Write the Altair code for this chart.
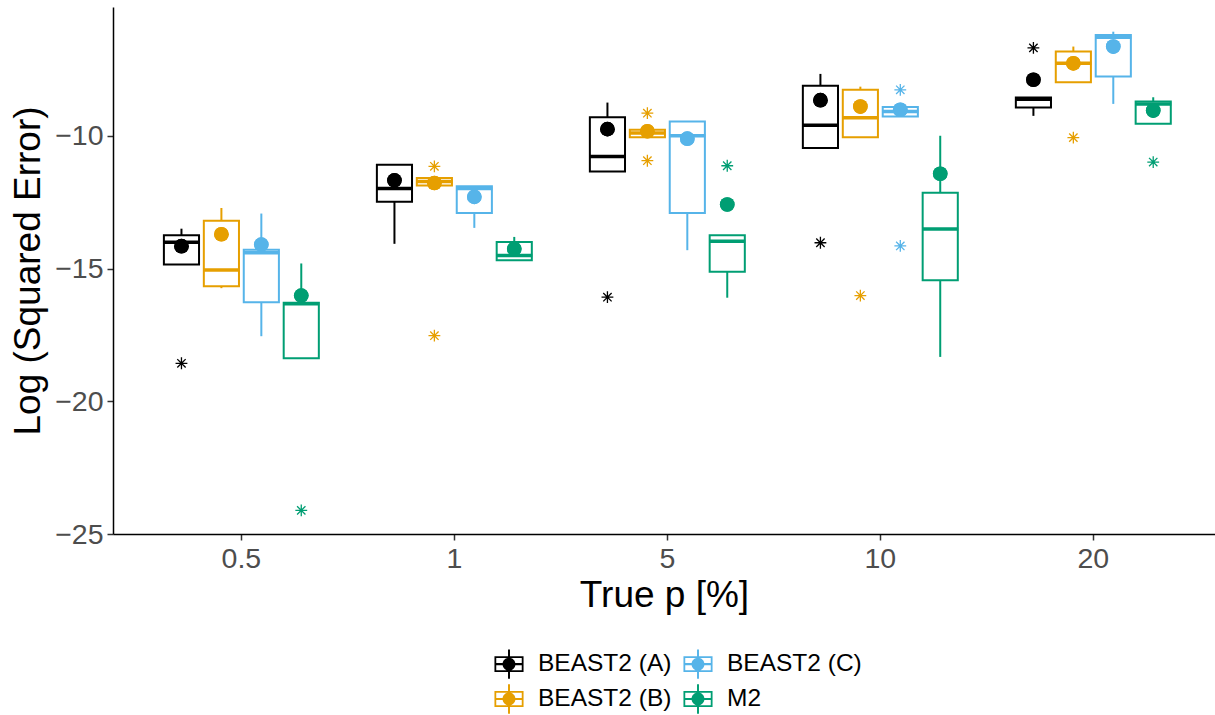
import altair as alt
import pandas as pd

# ---------------- data ----------------
cats = ["0.5", "1", "5", "10", "20"]
series_names = ["BEAST2 (A)", "BEAST2 (B)", "BEAST2 (C)", "M2"]
series_colors = ["#000000", "#E69F00", "#56B4E9", "#009E73"]

whisker_low = {
    "BEAST2 (A)": [-14.85, -14.07, -11.35, -10.46, -9.25],
    "BEAST2 (B)": [-15.74, -11.87, -10.06, -10.06, -7.98],
    "BEAST2 (C)": [-17.55, -13.47, -14.31, -9.27, -8.80],
    "M2":         [-18.38, -14.69, -16.10, -18.33, -9.55],
}
q1 = {
    "BEAST2 (A)": [-14.85, -12.49, -11.35, -10.46, -8.94],
    "BEAST2 (B)": [-15.67, -11.87, -10.06, -10.06, -7.98],
    "BEAST2 (C)": [-16.27, -12.91, -12.91, -9.27, -7.77],
    "M2":         [-18.38, -14.69, -15.12, -15.44, -9.55],
}
median = {
    "BEAST2 (A)": [-14.01, -11.99, -10.78, -9.60, -8.62],
    "BEAST2 (B)": [-15.06, -11.72, -9.90, -9.32, -7.27],
    "BEAST2 (C)": [-14.41, -11.99, -10.00, -9.09, -6.29],
    "M2":         [-16.33, -14.51, -13.97, -13.51, -8.80],
}
q3 = {
    "BEAST2 (A)": [-13.75, -11.09, -9.30, -8.12, -8.56],
    "BEAST2 (B)": [-13.20, -11.59, -9.77, -8.27, -6.83],
    "BEAST2 (C)": [-14.29, -11.90, -9.46, -8.92, -6.20],
    "M2":         [-16.29, -14.00, -13.75, -12.15, -8.71],
}
whisker_high = {
    "BEAST2 (A)": [-13.50, -11.09, -8.75, -7.67, -8.56],
    "BEAST2 (B)": [-12.72, -11.59, -9.77, -8.15, -6.64],
    "BEAST2 (C)": [-12.93, -11.90, -9.46, -8.92, -6.08],
    "M2":         [-14.81, -13.81, -13.75, -10.00, -8.55],
}
means = {
    "BEAST2 (A)": [-14.16, -11.68, -9.75, -8.66, -7.89],
    "BEAST2 (B)": [-13.71, -11.78, -9.83, -8.90, -7.27],
    "BEAST2 (C)": [-14.10, -12.30, -10.11, -9.02, -6.64],
    "M2":         [-16.02, -14.26, -12.59, -11.43, -9.05],
}
outlier_series = ["BEAST2 (A)", "BEAST2 (A)", "BEAST2 (A)", "BEAST2 (A)",
                  "BEAST2 (B)", "BEAST2 (B)", "BEAST2 (B)", "BEAST2 (B)", "BEAST2 (B)", "BEAST2 (B)",
                  "BEAST2 (C)", "BEAST2 (C)",
                  "M2", "M2", "M2"]
outlier_p = ["0.5", "5", "10", "20",
             "1", "1", "5", "5", "10", "20",
             "10", "10",
             "0.5", "5", "20"]
outlier_val = [-18.57, -16.08, -14.03, -6.69,
               -11.15, -17.53, -9.15, -10.94, -16.02, -10.07,
               -8.27, -14.15,
               -24.11, -11.13, -10.99]

# ---------------- tables ----------------
rows = []
for s in series_names:
    for i, c in enumerate(cats):
        rows.append({"p": c, "series": s,
                     "wlo": whisker_low[s][i], "q1": q1[s][i], "med": median[s][i],
                     "q3": q3[s][i], "whi": whisker_high[s][i], "mean": means[s][i]})
stats = pd.DataFrame(rows)
outl = pd.DataFrame({"p": outlier_p, "series": outlier_series, "val": outlier_val})

# ---------------- encodings ----------------
FONT = "Liberation Sans"
legend_order = ["BEAST2 (A)", "BEAST2 (C)", "BEAST2 (B)", "M2"]
legend_colors = [series_colors[series_names.index(s)] for s in legend_order]

GLYPH = ("M-0.97,-0.53H0.97V0.53H-0.97Z"
         "M-0.85,-0.41V0.41H0.85V-0.41Z"
         "M-0.85,-0.07H0.85V0.07H-0.85Z"
         "M-0.065,-0.98H0.065V0.98H-0.065Z"
         "M-0.43,0A0.43,0.43 0 1,1 0.43,0A0.43,0.43 0 1,1 -0.43,0Z")
ASTERISK = ("M-1,0L1,0M0,-1L0,1M-0.7071,-0.7071L0.7071,0.7071"
            "M-0.7071,0.7071L0.7071,-0.7071")

legend = alt.Legend(
    title=None, orient="none", legendX=381, legendY=642,
    direction="horizontal", columns=2, padding=0, offset=0,
    columnPadding=11, rowPadding=5,
    symbolType=GLYPH, symbolSize=900, symbolStrokeWidth=0, symbolOpacity=1,
    labelFont=FONT, labelFontSize=24.5, labelColor="black", labelOffset=14,
)

color_scale = alt.Scale(domain=legend_order, range=legend_colors)
X = alt.X("p:N", sort=cats,
          scale=alt.Scale(domain=cats, paddingInner=0.25, paddingOuter=0.212, align=0.537),
          axis=alt.Axis(title="True p [%]", labelAngle=0, labelPadding=4, titlePadding=5))
XO = alt.XOffset("series:N", scale=alt.Scale(domain=series_names, paddingInner=0.12, paddingOuter=0.06))
C_LEG = alt.Color("series:N", scale=color_scale, legend=legend)
C = alt.Color("series:N", scale=color_scale, legend=None)
yscale = alt.Scale(domain=[-25.0, -5.15], nice=False, zero=False)
Y_AXIS = alt.Axis(title="Log (Squared Error)", values=[-25, -20, -15, -10], labelPadding=4, titlePadding=7)

base = alt.Chart(stats).encode(x=X, xOffset=XO)

mean_leg = base.mark_circle(size=216, opacity=1).encode(
    y=alt.Y("mean:Q", scale=yscale, axis=Y_AXIS), color=C_LEG)
lower = base.mark_rule(strokeWidth=2).encode(y=alt.Y("wlo:Q", scale=yscale), y2="q1:Q", color=C)
upper = base.mark_rule(strokeWidth=2).encode(y=alt.Y("q3:Q", scale=yscale), y2="whi:Q", color=C)
box = base.mark_bar(filled=False, strokeWidth=2).encode(y=alt.Y("q1:Q", scale=yscale), y2="q3:Q", color=C)
med = base.mark_tick(thickness=3.5, size=36, opacity=1).encode(y=alt.Y("med:Q", scale=yscale), color=C)
mean = base.mark_circle(size=216, opacity=1).encode(y=alt.Y("mean:Q", scale=yscale), color=C)
outs = alt.Chart(outl).mark_point(shape=ASTERISK, filled=False, size=140, strokeWidth=1.3, opacity=1).encode(
    x=X, xOffset=XO, color=C, y=alt.Y("val:Q", scale=yscale))

chart = alt.layer(mean_leg, lower, upper, box, med, outs, mean).properties(
    width=1102, height=527,
    autosize=alt.AutoSizeParams(type="none"),
    padding={"left": 113, "top": 7, "right": 0, "bottom": 181},
).configure_view(stroke=None).configure_axis(
    labelFont=FONT, labelFontSize=28.5, labelColor="#4D4D4D",
    titleFont=FONT, titleFontSize=37, titleFontWeight="normal", titleColor="black",
    domainColor="black", domainWidth=1.5, tickColor="#333333", tickWidth=1.5, tickSize=6,
    grid=False,
)

chart.save("out.html", embed_options={"renderer": "svg", "actions": False})
